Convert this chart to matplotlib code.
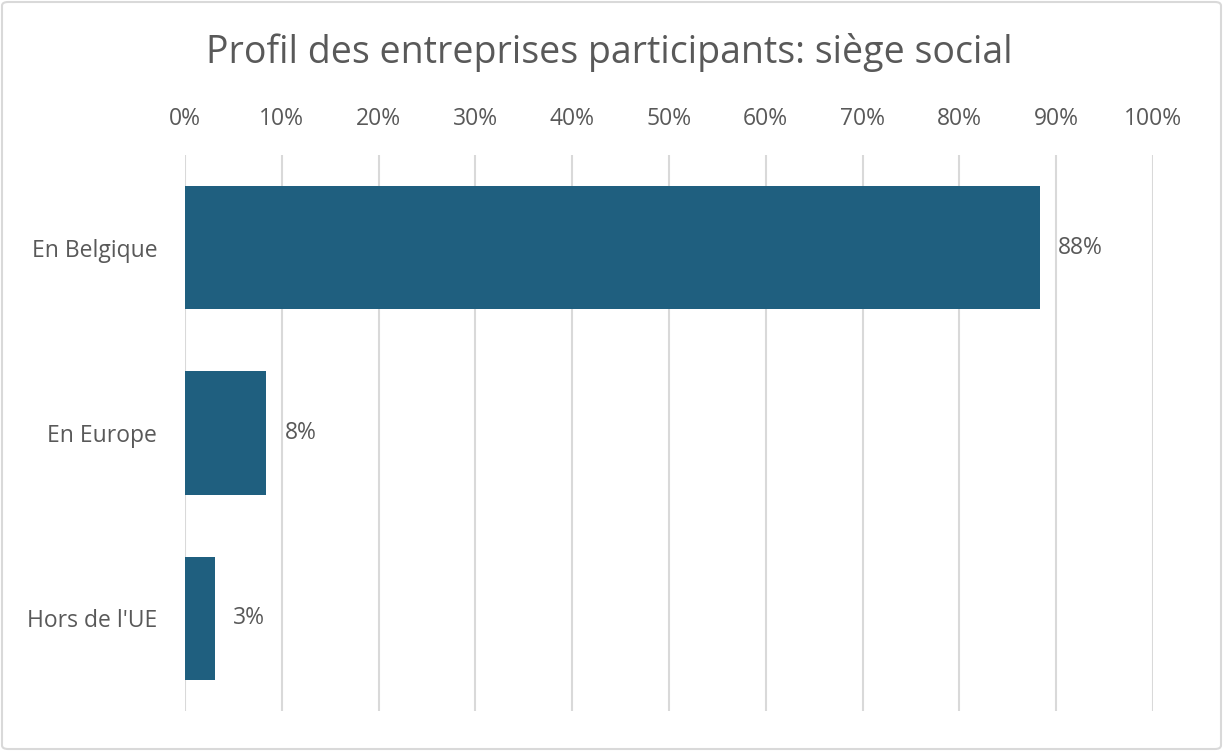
import matplotlib
matplotlib.use("Agg")
import matplotlib.pyplot as plt
from matplotlib.patches import FancyBboxPatch
from matplotlib.ticker import PercentFormatter

plt.rcParams['font.family'] = ['Open Sans', 'DejaVu Sans']

categories = ["En Belgique", "En Europe", "Hors de l'UE"]
values = [0.883, 0.084, 0.031]
labels = ["88%", "8%", "3%"]
ticks = [i / 10 for i in range(11)]

text_color = "#595959"
bar_color = "#1F5F7F"

fig = plt.figure(figsize=(12.23, 7.51), dpi=100)
ax = fig.add_axes([185 / 1223, 40 / 751, 968 / 1223, 556 / 751])

ypos = list(range(len(categories)))
ax.barh(ypos, values, height=0.665, color=bar_color, zorder=3)
ax.set_ylim(len(categories) - 0.5, -0.5)
ax.set_xlim(0, 1)
ax.set_yticks(ypos)
ax.set_yticklabels(categories, fontsize=16.5, color=text_color)
ax.set_xticks(ticks)
ax.xaxis.set_major_formatter(PercentFormatter(1.0, decimals=0))
ax.xaxis.tick_top()
ax.tick_params(axis='x', length=0, pad=17, labelsize=16.5, labelcolor=text_color)
ax.tick_params(axis='y', length=0, pad=20)
ax.grid(axis='x', color="#D9D9D9", linewidth=1.5, zorder=0)
for s in ax.spines.values():
    s.set_visible(False)

for y, v, lab in zip(ypos, values, labels):
    ax.text(v + 0.019, y, lab, va='center', ha='left', fontsize=16.5, color=text_color)

fig.text(0.4985, 1 - 52 / 751, "Profil des entreprises participants: siège social",
         ha='center', va='center', fontsize=27, color=text_color)

border = FancyBboxPatch((2 / 1223, 2 / 751), 1 - 4 / 1223, 1 - 4 / 751,
                        boxstyle="round,pad=0,rounding_size=0.005",
                        transform=fig.transFigure, fill=False,
                        edgecolor="#D9D9D9", linewidth=1.5)
fig.patches.append(border)

fig.savefig("out.png", dpi=100)
